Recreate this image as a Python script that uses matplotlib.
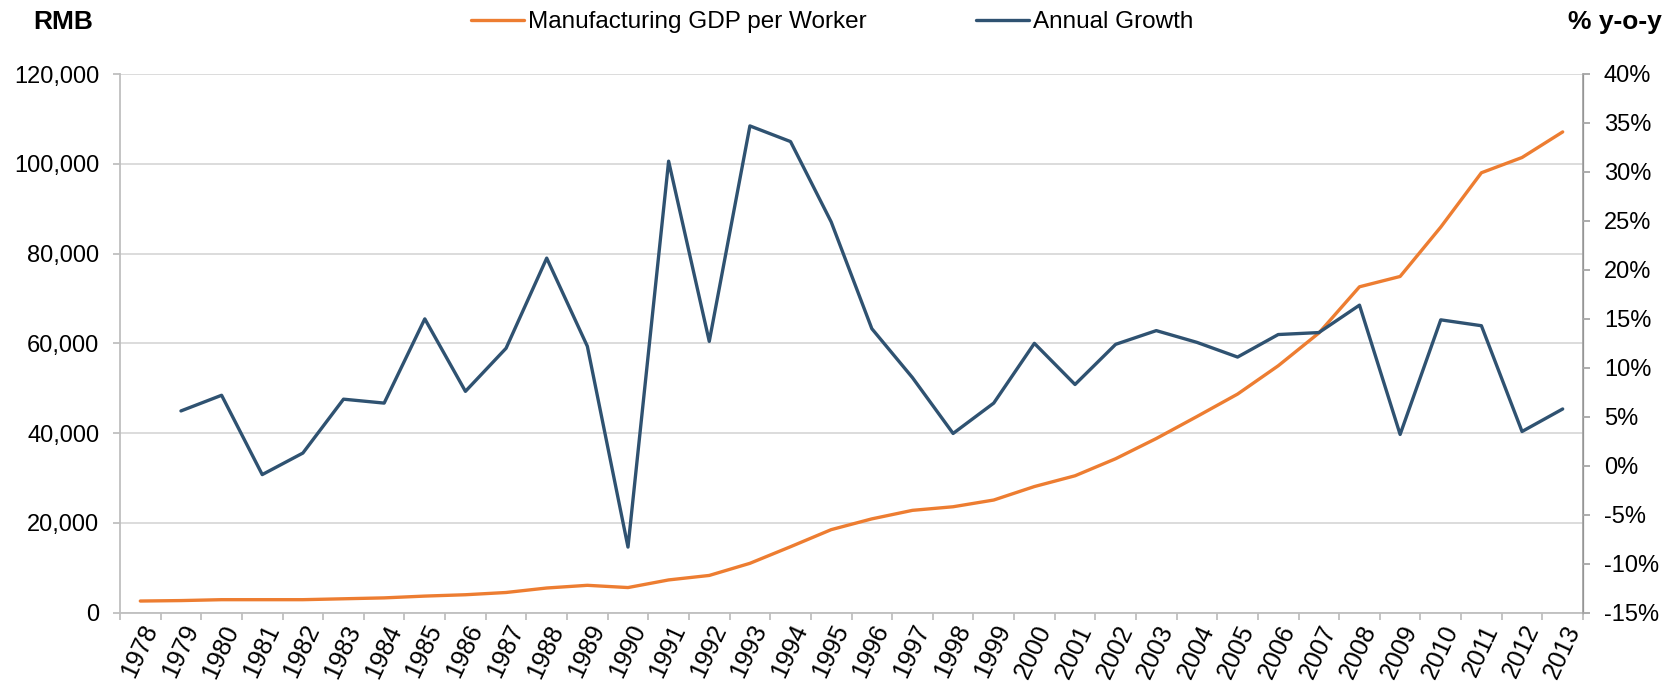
import matplotlib
matplotlib.use("Agg")
import matplotlib.pyplot as plt
from matplotlib.ticker import FuncFormatter, FixedLocator

plt.rcParams['font.family'] = ['Liberation Sans', 'DejaVu Sans']

years = [str(y) for y in range(1978, 2014)]
gdp_per_worker = [2600, 2700, 2900, 2900, 2900, 3100, 3300, 3700, 4000, 4500,
                  5500, 6100, 5600, 7300, 8300, 11000, 14700, 18500, 20900, 22800,
                  23600, 25100, 28100, 30500, 34300, 38800, 43700, 48700, 55000, 62300,
                  72600, 74900, 85900, 98000, 101400, 107100]
growth_years = years[1:]
annual_growth = [5.6, 7.2, -0.9, 1.3, 6.8, 6.4, 15.0, 7.6, 12.0, 21.2,
                 12.2, -8.3, 31.1, 12.7, 34.7, 33.1, 24.9, 14.0, 9.0, 3.3,
                 6.4, 12.5, 8.3, 12.4, 13.8, 12.6, 11.1, 13.4, 13.6, 16.4,
                 3.2, 14.9, 14.3, 3.5, 5.8]

orange = '#ED7D31'
navy = '#2F5271'
fs = 17

W, H = 1679, 681
fig = plt.figure(figsize=(W / 100, H / 100), dpi=100)
left, right, top, bottom = 120, 1583, 74, 612.7
ax = fig.add_axes([left / W, 1 - bottom / H, (right - left) / W, (bottom - top) / H])
ax2 = ax.twinx()

x_all = list(range(len(years)))
x_growth = x_all[1:]

l1, = ax.plot(x_all, gdp_per_worker, color=orange, lw=2.4, solid_capstyle='round',
              label='Manufacturing GDP per Worker')
l2, = ax2.plot(x_growth, annual_growth, color=navy, lw=2.4, solid_capstyle='round',
               label='Annual Growth')

ax.set_xlim(-0.5, len(years) - 0.5)
ax.set_ylim(0, 120000)
ax.set_yticks(range(0, 120001, 20000))
ax.yaxis.set_major_formatter(FuncFormatter(lambda v, p: f'{int(v):,}'))
ax.grid(axis='y', color='#D9D9D9', lw=1.3)
ax.set_axisbelow(True)

ax2.set_ylim(-15, 40)
ax2.set_yticks(range(-15, 41, 5))
ax2.yaxis.set_major_formatter(FuncFormatter(lambda v, p: f'{int(v)}%'))

ax.set_xticks(x_all)
ax.set_xticklabels(years, rotation=65, ha='right', rotation_mode='anchor', fontsize=18)
ax.xaxis.set_minor_locator(FixedLocator([i - 0.5 for i in range(len(years) + 1)]))
ax.tick_params(axis='x', which='major', length=0, pad=6)
ax.tick_params(axis='x', which='minor', length=5, color='#BFBFBF', width=1.3)
ax.tick_params(axis='y', length=5, color='#BFBFBF', width=1.3, labelsize=fs, pad=10)
ax2.tick_params(axis='y', length=5, color='#A6A6A6', width=1.3, labelsize=fs, pad=10)

for a in (ax, ax2):
    a.spines['top'].set_visible(False)
ax.spines['left'].set_color('#BFBFBF')
ax.spines['bottom'].set_color('#BFBFBF')
ax.spines['left'].set_linewidth(1.3)
ax.spines['bottom'].set_linewidth(1.3)
ax2.spines['left'].set_visible(False)
ax2.spines['bottom'].set_visible(False)
ax2.spines['right'].set_color('#A6A6A6')
ax2.spines['right'].set_linewidth(1.3)

fig.text(33 / W, 1 - 22 / H, 'RMB', fontsize=19, fontweight='bold', va='center', ha='left')
fig.text(1662 / W, 1 - 22 / H, '% y-o-y', fontsize=19, fontweight='bold', va='center', ha='right')

fig.legend(handles=[l1, l2], loc='center', bbox_to_anchor=(832 / W, 1 - 22 / H), ncol=2,
           frameon=False, fontsize=17.5, handlelength=2.2, handletextpad=0.15,
           columnspacing=4.5, borderaxespad=0, borderpad=0)

fig.savefig('out.png', dpi=100)
